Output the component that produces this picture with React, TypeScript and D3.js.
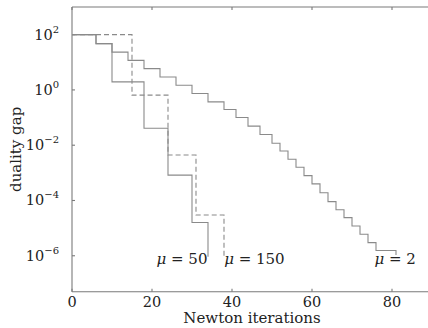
import React, { useEffect, useRef } from 'react'
import * as d3 from 'd3'

// step curves: iteration where each level starts, and the gap at that level
const mu2Iters = [0, 6, 10, 14, 18, 22, 26, 30, 34, 38, 41, 44, 47, 50, 52, 54, 56, 58, 60, 62, 64, 66, 68, 70, 72, 74, 76, 81]
const mu2Gaps = [100, 47.3, 23.4, 11.7, 5.9, 2.95, 1.48, 0.74, 0.37, 0.195, 0.1, 0.049, 0.0245, 0.0117, 0.0062, 0.0031, 0.0016, 7.9e-4, 4.0e-4, 1.9e-4, 9.1e-5, 4.6e-5, 2.4e-5, 1.2e-5, 6.0e-6, 3.0e-6, 1.55e-6, 1.07e-6]

const mu50Iters = [0, 6, 10, 18, 24, 30, 34]
const mu50Gaps = [100, 47.3, 1.95, 0.041, 8.3e-4, 1.6e-5, 9.3e-7]

const mu150Iters = [0, 15, 24, 31, 38]
const mu150Gaps = [100, 0.65, 0.0044, 3.0e-5, 9.3e-7]

const xTicks = [0, 20, 40, 60, 80]
const yTickExps = [2, 0, -2, -4, -6]

const curveLabels = [
  { mu: '50', at: 27.5 },
  { mu: '150', at: 45.6 },
  { mu: '2', at: 80.8 },
]

const W = 428
const H = 328
const FONT = '"DejaVu Serif", "Liberation Serif", serif'

const App: React.FC = () => {
  const svgRef = useRef<SVGSVGElement | null>(null)

  useEffect(() => {
    if (!svgRef.current) return
    const svg = d3.select(svgRef.current)
    svg.selectAll('*').remove()

    const left = 72
    const right = 432
    const top = 7
    const bottom = 291.7

    const x = d3.scaleLinear().domain([0, 90]).range([left, right])
    const y = d3.scaleLog().domain([Math.pow(10, -7.3), 1000]).range([bottom, top])

    const axisColor = '#7a7a7a'
    const lineColor = '#8a8a8a'

    // frame: left, top, bottom
    const frame = svg.append('g').attr('stroke', axisColor).attr('stroke-width', 1.1).attr('fill', 'none')
    frame.append('line').attr('x1', left).attr('x2', left).attr('y1', top).attr('y2', bottom)
    frame.append('line').attr('x1', left).attr('x2', right).attr('y1', top).attr('y2', top)
    frame.append('line').attr('x1', left).attr('x2', right).attr('y1', bottom).attr('y2', bottom)

    xTicks.forEach(t => {
      frame.append('line').attr('x1', x(t)).attr('x2', x(t)).attr('y1', bottom).attr('y2', bottom - 3)
      frame.append('line').attr('x1', x(t)).attr('x2', x(t)).attr('y1', top).attr('y2', top + 3)
      svg.append('text')
        .attr('x', x(t))
        .attr('y', bottom + 15)
        .attr('text-anchor', 'middle')
        .attr('font-family', FONT)
        .attr('font-size', 14.5)
        .attr('fill', '#222')
        .text(t)
    })

    yTickExps.forEach(e => {
      const yy = y(Math.pow(10, e))
      frame.append('line').attr('x1', left).attr('x2', left + 3).attr('y1', yy).attr('y2', yy)
      const txt = svg.append('text')
        .attr('x', 59)
        .attr('y', yy + 5)
        .attr('text-anchor', 'end')
        .attr('font-family', FONT)
        .attr('font-size', 14.5)
        .attr('fill', '#222')
      txt.append('tspan').text('10')
      txt.append('tspan')
        .attr('dy', -7)
        .attr('font-size', 10)
        .text(e < 0 ? `\u2212${-e}` : `${e}`)
    })

    svg.append('text')
      .attr('transform', `translate(21,${(top + bottom) / 2}) rotate(-90)`)
      .attr('text-anchor', 'middle')
      .attr('font-family', FONT)
      .attr('font-size', 15)
      .attr('fill', '#222')
      .text('duality gap')

    svg.append('text')
      .attr('x', (left + right) / 2)
      .attr('y', 323)
      .attr('text-anchor', 'middle')
      .attr('font-family', FONT)
      .attr('font-size', 15)
      .attr('fill', '#222')
      .text('Newton iterations')

    const line = d3.line<[number, number]>()
      .x(d => x(d[0]))
      .y(d => y(d[1]))
      .curve(d3.curveStepAfter)

    const series = [
      { iters: mu2Iters, gaps: mu2Gaps, dash: null },
      { iters: mu50Iters, gaps: mu50Gaps, dash: null },
      { iters: mu150Iters, gaps: mu150Gaps, dash: '5,3' },
    ]

    series.forEach(s => {
      const pts = s.iters.map((it, i) => [it, s.gaps[i]] as [number, number])
      svg.append('path')
        .attr('d', line(pts))
        .attr('fill', 'none')
        .attr('stroke', lineColor)
        .attr('stroke-width', 1.1)
        .attr('stroke-dasharray', s.dash)
    })

    curveLabels.forEach(l => {
      const txt = svg.append('text')
        .attr('x', x(l.at))
        .attr('y', 264)
        .attr('text-anchor', 'middle')
        .attr('font-family', FONT)
        .attr('font-size', 15)
        .attr('fill', '#222')
      txt.append('tspan').attr('font-style', 'italic').text('\u03bc')
      txt.append('tspan').text(` = ${l.mu}`)
    })
  }, [])

  return (
    <svg
      ref={svgRef}
      width={W}
      height={H}
      style={{ position: 'absolute', left: 0, top: 0, background: '#fff' }}
    />
  )
}

export default App
